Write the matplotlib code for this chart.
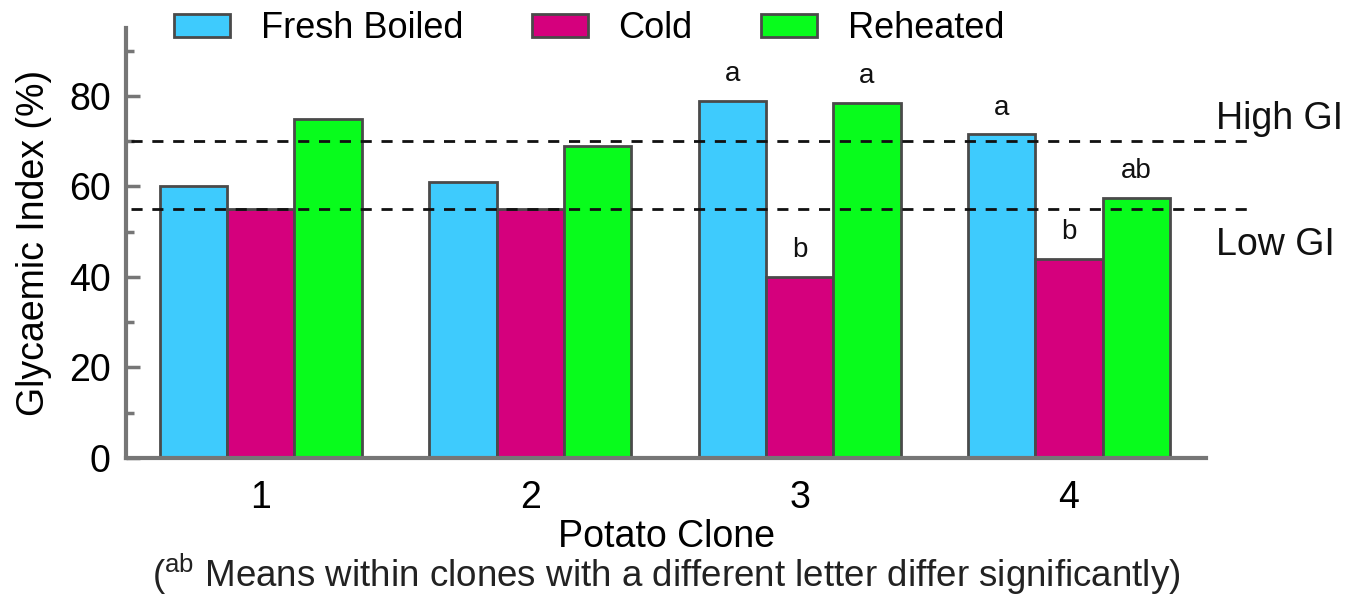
import matplotlib
matplotlib.use("Agg")
import matplotlib.pyplot as plt
import numpy as np
from matplotlib.patches import Patch

plt.rcParams['font.family'] = ['Liberation Sans', 'DejaVu Sans']
plt.rcParams['mathtext.fontset'] = 'custom'
plt.rcParams['mathtext.rm'] = 'Liberation Sans'
plt.rcParams['mathtext.default'] = 'regular'

# Données
clones = ['1', '2', '3', '4']
series = ['Fresh Boiled', 'Cold', 'Reheated']
fresh_boiled = [60, 61, 79, 71.5]
cold = [55, 55, 40, 44]
reheated = [75, 69, 78.5, 57.5]
letters_fresh = ['', '', 'a', 'a']
letters_cold = ['', '', 'b', 'b']
letters_reheated = ['', '', 'a', 'ab']
high_gi = 70
low_gi = 55

colors = ['#3ecbfd', '#d5007d', '#08fc1c']
edge = '#4a4a4a'
spine_col = '#767676'
fs = 27

fig = plt.figure(figsize=(13.51, 6.0), dpi=100)
ax = fig.add_axes([0.0933, 0.237, 0.7997, 0.716])

x = np.arange(1, len(clones) + 1)
w = 0.25
values = [fresh_boiled, cold, reheated]
letters = [letters_fresh, letters_cold, letters_reheated]
for i, (vals, col, labs) in enumerate(zip(values, colors, letters)):
    pos = x + (i - 1) * w
    ax.bar(pos, vals, width=w, color=col, edgecolor=edge, linewidth=2, zorder=2)
    for p, v, l in zip(pos, vals, labs):
        if l:
            ax.annotate(l, (p, v), xytext=(0, 10), textcoords='offset points',
                        ha='center', va='bottom', fontsize=20, color='#111111')

# Lignes GI (dépassent l'axe à droite)
for yv in (high_gi, low_gi):
    ax.plot([0.52, 4.66], [yv, yv], linestyle=(0, (4, 3.5)), color='#111111',
            linewidth=2, clip_on=False, zorder=3)
ax.text(4.545, high_gi + 5, 'High GI', fontsize=fs, ha='left', va='center', color='#111111')
ax.text(4.545, low_gi - 8, 'Low GI', fontsize=fs, ha='left', va='center', color='#111111')

ax.set_xlim(0.5, 4.51)
ax.set_ylim(0, 95)
ax.set_xticks(x)
ax.set_xticklabels(clones)
ax.set_yticks([0, 20, 40, 60, 80])
ax.set_yticks(np.arange(10, 95, 20), minor=True)
ax.tick_params(axis='x', length=0, pad=16, labelsize=fs)
ax.tick_params(axis='y', which='major', direction='in', length=10, width=2.5,
               color=spine_col, pad=11, labelsize=fs)
ax.tick_params(axis='y', which='minor', direction='in', length=6, width=2.5, color=spine_col)

for s in ('top', 'right'):
    ax.spines[s].set_visible(False)
for s in ('left', 'bottom'):
    ax.spines[s].set_color(spine_col)
    ax.spines[s].set_linewidth(3)

ax.set_ylabel('Glycaemic Index (%)', fontsize=fs, labelpad=12)
ax.set_xlabel('Potato Clone', fontsize=fs, labelpad=2)

fig.text(0.493, 0.042, r'($^{ab}$ Means within clones with a different letter differ significantly)',
         fontsize=26.5, ha='center', va='center', color='#222222')

handles = [Patch(facecolor=c, edgecolor=edge, linewidth=2, label=s) for c, s in zip(colors, series)]
fig.legend(handles=handles, loc='center', bbox_to_anchor=(0.436, 0.952), ncol=3, frameon=False,
           fontsize=26, handlelength=1.55, handleheight=0.6, handletextpad=0.85, columnspacing=1.9)

fig.savefig('out.png', dpi=100)
